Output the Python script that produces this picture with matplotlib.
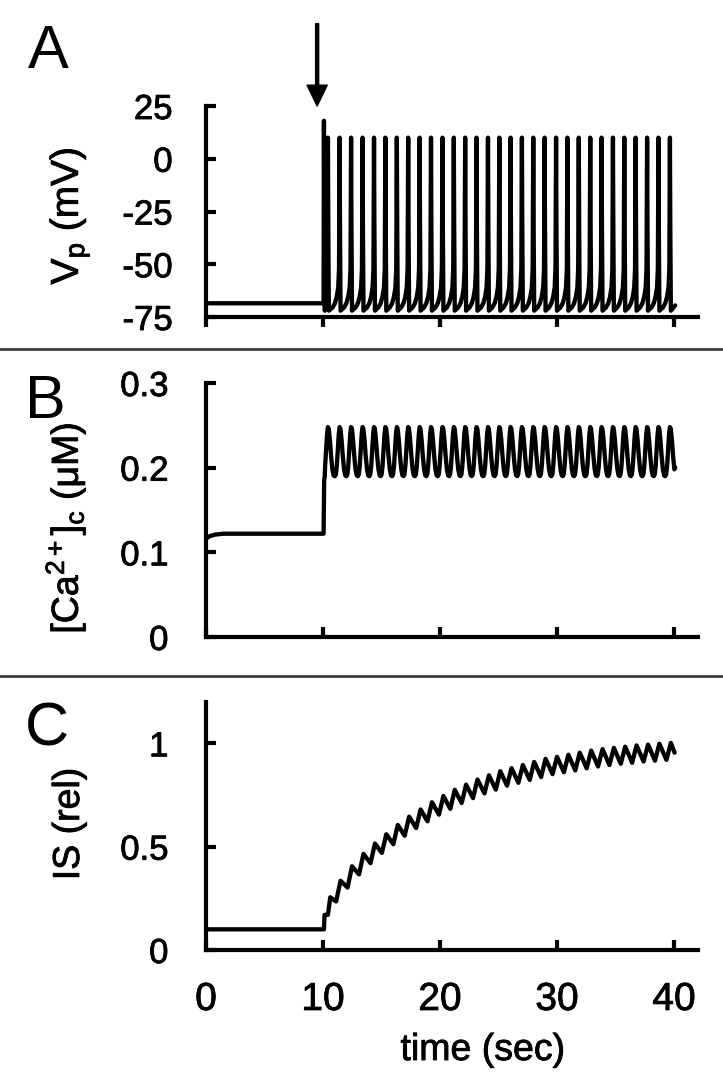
import matplotlib
matplotlib.use('Agg')
import matplotlib.pyplot as plt
import matplotlib.patheffects as pe
from matplotlib.lines import Line2D

plt.rcParams['font.family'] = ['Liberation Sans', 'DejaVu Sans']
plt.rcParams['mathtext.fontset'] = 'custom'
plt.rcParams['mathtext.rm'] = 'Liberation Sans'
plt.rcParams['mathtext.it'] = 'Liberation Sans:italic'
plt.rcParams['axes.unicode_minus'] = False

# ---- values ----
time_ticks = [0, 10, 20, 30, 40]
stim_time = 9.5          # arrow
t_end = 40.1

# spike times (sec), panel A
spike_t = [10.08, 10.42, 11.42, 12.4, 13.38, 14.36, 15.33, 16.31, 17.28, 18.26,
           19.23, 20.21, 21.18, 22.15, 23.12, 24.1, 25.07, 26.03, 27.0, 27.97,
           28.94, 29.92, 30.89, 31.86, 32.84, 33.81, 34.78, 35.75, 36.72, 37.7,
           38.67, 39.65]
first_peak_vp = 18.0
peak_vp = 10.0
rest_vp = -68.5
end_vp = -69.5
# one action potential around its peak: offsets (sec) and Vp (mV)
ap_dt = [-0.6, -0.4, -0.25, -0.12, -0.05, 0.0, 0.03, 0.08]
ap_v = [-70.5, -68.5, -65.5, -61.0, -52.0, None, -30.0, -72.0]

# [Ca2+]c (uM), panel B
ca_pre_t = [0.0, 0.3, 0.8, 1.5, 10.05]
ca_pre_v = [0.116, 0.119, 0.121, 0.122, 0.122]
ca_step_t = [10.1, 10.15]
ca_step_v = [0.185, 0.19]
# one Ca cycle around a spike: offsets (sec) and value
ca_dt = [-0.4, -0.32, -0.24, -0.15, -0.07, 0.0, 0.07, 0.16, 0.27, 0.38, 0.48, 0.56]
ca_v = [0.19, 0.192, 0.202, 0.222, 0.240, 0.248, 0.246, 0.234, 0.214, 0.198, 0.191, 0.19]
ca_end = 0.2

# IS (rel), panel C: value at the start of each rise and at its top
is_rest = 0.1
is_trough = [0.1, 0.17, 0.235, 0.302, 0.366, 0.42, 0.47, 0.512, 0.553, 0.59,
             0.623, 0.655, 0.683, 0.711, 0.735, 0.758, 0.776, 0.795, 0.809, 0.823,
             0.837, 0.851, 0.86, 0.869, 0.879, 0.888, 0.895, 0.901, 0.906, 0.912,
             0.916, 0.92]
is_peak = [0.17, 0.255, 0.335, 0.405, 0.465, 0.515, 0.56, 0.605, 0.645, 0.68,
           0.715, 0.745, 0.775, 0.80, 0.825, 0.845, 0.865, 0.88, 0.895, 0.91,
           0.925, 0.935, 0.945, 0.955, 0.965, 0.972, 0.978, 0.984, 0.99, 0.994,
           0.998, 1.002]
is_start = [0.0, 0.0, -0.3, -0.3, -0.3, -0.3, -0.3, -0.3, -0.3, -0.3,
            -0.3, -0.3, -0.3, -0.3, -0.3, -0.3, -0.3, -0.3, -0.3, -0.3,
            -0.3, -0.3, -0.3, -0.3, -0.3, -0.3, -0.3, -0.3, -0.3, -0.3,
            -0.3, -0.3]
is_top = [0.05, 0.2, 0.08, 0.08, 0.08, 0.08, 0.08, 0.08, 0.08, 0.08,
          0.08, 0.08, 0.08, 0.08, 0.08, 0.08, 0.08, 0.08, 0.08, 0.08,
          0.08, 0.08, 0.08, 0.08, 0.08, 0.08, 0.08, 0.08, 0.08, 0.08,
          0.08, 0.08]
is_end = 0.955

# ---- build traces ----
vp_t = [0.0, 10.05]
vp = [rest_vp, rest_vp]
for k, ts in enumerate(spike_t):
    pk = first_peak_vp if k == 0 else peak_vp
    last = vp_t[-1]
    for dt, val in zip(ap_dt, ap_v):
        if ts + dt <= last:
            continue
        vp_t.append(ts + dt)
        vp.append(pk if val is None else val)
vp_t.append(t_end)
vp.append(end_vp)

ca_t = ca_pre_t + ca_step_t
ca = ca_pre_v + ca_step_v
for ts in spike_t[1:]:
    last = ca_t[-1]
    for dt, val in zip(ca_dt, ca_v):
        if ts + dt <= last or ts + dt >= t_end:
            continue
        ca_t.append(ts + dt)
        ca.append(val)
ca_t.append(t_end)
ca.append(ca_end)

is_t = [0.0]
is_v = [is_rest]
for ts, a, b, lo, hi in zip(spike_t, is_start, is_top, is_trough, is_peak):
    is_t += [ts + a, ts + b]
    is_v += [lo, hi]
is_t.append(t_end - 0.05)
is_v.append(is_end)

# ---- figure ----
fig = plt.figure(figsize=(7.23, 10.91), dpi=100)
L, W = 206 / 723, 492 / 723
axA = fig.add_axes([L, 1 - 317 / 1091, W, 211 / 1091])
axB = fig.add_axes([L, 1 - 637 / 1091, W, 254 / 1091])
axC = fig.add_axes([L, 1 - 950 / 1091, W, 248 / 1091])

line_kw = dict(color='black', lw=3.1, solid_joinstyle='round', solid_capstyle='round')
heavy = [pe.withStroke(linewidth=0.6, foreground='black')]


def style(ax, xdir, ypad):
    for s in ['top', 'right']:
        ax.spines[s].set_visible(False)
    for s in ['left', 'bottom']:
        ax.spines[s].set_linewidth(3)
    ax.set_xlim(0, 42.05)
    ax.set_xticks(time_ticks)
    ax.tick_params(axis='x', direction=xdir, length=7.5, width=3, labelsize=28, pad=23)
    ax.tick_params(axis='y', direction='in', length=7.5, width=3, labelsize=25, pad=ypad)


# A
axA.plot(vp_t, vp, **line_kw)
style(axA, 'out', 24)
axA.set_ylim(-75, 25)
axA.set_yticks([25, 0, -25, -50, -75])
axA.set_yticklabels(['25', '0', '-25', '-50', '-75'])
axA.tick_params(labelbottom=False)
axA.annotate('', xy=(stim_time, 25), xytext=(stim_time, 64),
             arrowprops=dict(width=2.2, headwidth=14.5, headlength=15,
                             facecolor='black', edgecolor='black', shrink=0),
             annotation_clip=False)

# B
axB.plot(ca_t, ca, **line_kw)
style(axB, 'in', 27)
axB.set_ylim(0, 0.3)
axB.set_yticks([0, 0.1, 0.2, 0.3])
axB.set_yticklabels(['0', '0.1', '0.2', '0.3'])
axB.tick_params(labelbottom=False)

# C
axC.plot(is_t, is_v, **line_kw)
style(axC, 'in', 27)
axC.set_ylim(0, 1.2)
axC.set_yticks([0, 0.5, 1])
axC.set_yticklabels(['0', '0.5', '1'])
axC.set_xticklabels([str(t) for t in time_ticks])

for ax in [axA, axB, axC]:
    for lab in ax.get_xticklabels() + ax.get_yticklabels():
        lab.set_path_effects(heavy)


def px(x, y):
    return x / 723, 1 - y / 1091


# panel letters
for s, (x, y) in zip(['A', 'B', 'C'], [(28, 68), (25, 418), (25, 746)]):
    fig.text(*px(x, y), s, fontsize=44, ha='left', va='baseline')

# y labels
fig.text(*px(70, 216), r'V$_\mathrm{p}$ (mV)', fontsize=28, rotation=90,
         ha='center', va='center', path_effects=heavy)
fig.text(*px(65, 528), r'[Ca$^{2+}$]$_\mathrm{c}$ (μM)', fontsize=27, rotation=90,
         ha='center', va='center', path_effects=heavy)
fig.text(*px(69, 824), 'IS (rel)', fontsize=27, rotation=90,
         ha='center', va='center', path_effects=heavy)
fig.text(*px(483, 1060), 'time (sec)', fontsize=27, ha='center', va='baseline',
         path_effects=heavy)

# separators between panels
for y in [349, 676]:
    fig.add_artist(Line2D([0, 1], [1 - y / 1091] * 2, transform=fig.transFigure,
                          color='#3c3c3c', lw=2))

fig.savefig('out.png', dpi=100)
